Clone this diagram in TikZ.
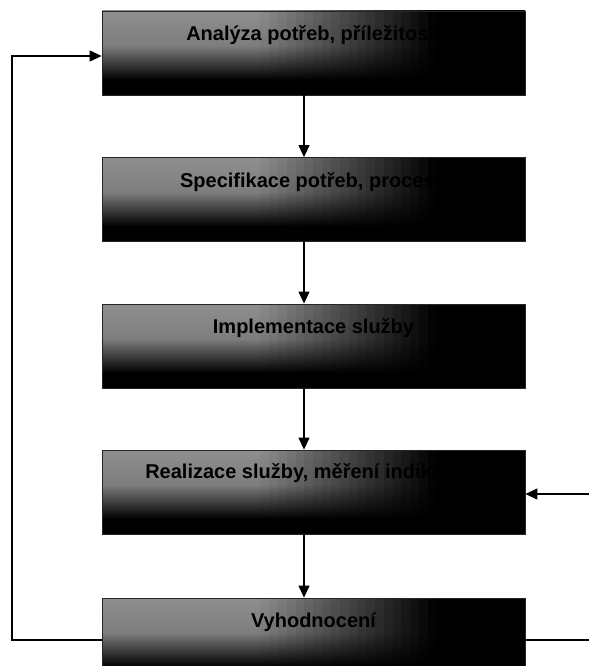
\documentclass[tikz,border=0pt]{standalone}
\usepackage{fontspec}
\setmainfont{Liberation Sans}
\usetikzlibrary{calc,arrows.meta}
\tikzset{
  gradbox/.style={draw=black!85, line width=0.8pt, minimum width=423pt,
    minimum height=84pt, inner sep=0pt,
    path picture={
      \coordinate (pSW) at (path picture bounding box.south west);
      \coordinate (pNE) at (path picture bounding box.north east);
      \fill[black] (pSW) rectangle (pNE);
      \foreach \i in {0,...,47}{
        \pgfmathsetmacro{\fa}{\i/48}
        \pgfmathsetmacro{\fb}{min(1,(\i+1.15)/48)}
        \pgfmathsetmacro{\g}{0.56*max(0,min(1,(0.78-\fa)/0.42))}
        \definecolor{stripc}{gray}{\g}
        \shade[top color=stripc, bottom color=black, middle color=stripc!88!black]
          ($(pSW)!0.18!(pNE -| pSW)!\fa!($(pSW -| pNE)!0.18!(pNE)$)$)
          rectangle
          ($(pNE -| pSW)!\fb!(pNE)$);
      }
    }},
  lbl/.style={font=\bfseries\fontsize{20}{24}\selectfont, inner sep=0pt, text=black},
  conn/.style={line width=1.2pt, draw=black},
  arr/.style={conn, -{Triangle[length=12pt,width=11pt]}},
}
\begin{document}
\begin{tikzpicture}[x=1pt, y=-1pt]
  \clip (0,0) rectangle (589,666);
  \useasboundingbox (0,0) rectangle (589,666);
  \fill[white] (0,0) rectangle (589,666);

  \node[gradbox] (b1) at (313.5,53) {};
  \node[gradbox] (b2) at (313.5,199.5) {};
  \node[gradbox] (b3) at (313.5,346) {};
  \node[gradbox] (b4) at (313.5,492) {};
  \node[gradbox] (b5) at (313.5,640) {};

  \node[lbl] (t1) at ([yshift=-25pt]b1.north) {Analýza potřeb, příležitostí};
  \node[lbl] (t2) at ([yshift=-24pt]b2.north) {Specifikace potřeb, procesů};
  \node[lbl] (t3) at ([yshift=-25pt]b3.north) {Implementace služby};
  \node[lbl] (t4) at ([yshift=-23pt]b4.north) {Realizace služby, měření indikátorů};
  \node[lbl] (t5) at ([yshift=-25pt]b5.north) {Vyhodnocení};

  \coordinate (ax) at (304,0);
  \coordinate (lx) at (12,0);
  \coordinate (rx) at (589,0);

  \draw[arr] (b1.south -| ax) -- (b2.north -| ax);
  \draw[arr] (b2.south -| ax) -- (b3.north -| ax);
  \draw[arr] (b3.south -| ax) -- (b4.north -| ax);
  \draw[arr] (b4.south -| ax) -- (b5.north -| ax);

  \draw[arr] (b5.west) -- (b5.west -| lx) |- ([yshift=-3pt]b1.west);
  \draw[conn] (b5.east) -- (b5.east -| rx);
  \draw[arr] ([yshift=-2pt]b4.east -| rx) -- ([yshift=-2pt]b4.east);
\end{tikzpicture}
\end{document}
